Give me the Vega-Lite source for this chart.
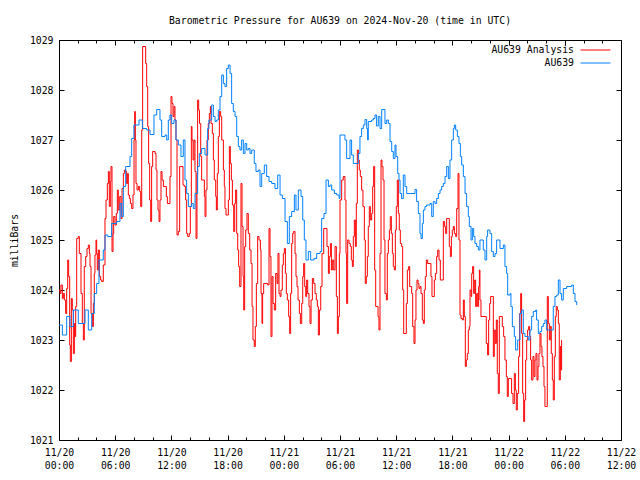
{
"$schema": "https://vega.github.io/schema/vega-lite/v6.json",
"width": 562, "height": 400,
"autosize": {"type": "none"},
"padding": {"left": 59, "top": 40, "right": 19, "bottom": 40},
"background": "white",
"title": {"text": "Barometric Pressure for AU639 on 2024-Nov-20 (time in UTC)", "font": "DejaVu Sans Mono", "fontSize": 9.8, "fontWeight": "normal", "color": "black", "anchor": "middle", "offset": 9},
"config": {
  "view": {"stroke": "black", "strokeWidth": 1},
  "font": "DejaVu Sans Mono",
  "axis": {"grid": false, "domain": false, "labelFont": "DejaVu Sans Mono", "labelFontSize": 9.8, "labelColor": "black", "tickColor": "black", "tickWidth": 1, "titleFont": "DejaVu Sans Mono", "titleFontSize": 9.8, "titleFontWeight": "normal", "titleColor": "black", "labelFlush": false, "labelBound": false, "labelOverlap": false}
},
"datasets": {
"analysis": [
{"h":0,"p":1024.0},{"h":0.11,"p":1023.93},{"h":0.21,"p":1024.1},{"h":0.36,"p":1023.83},{"h":0.46,"p":1023.93},{"h":0.57,"p":1023.8},{"h":0.71,"p":1023.53},{"h":0.82,"p":1024.03},{"h":0.93,"p":1024.6},{"h":1.03,"p":1024.27},{"h":1.14,"p":1022.9},{"h":1.21,"p":1022.57},{"h":1.32,"p":1023.83},{"h":1.42,"p":1023.6},{"h":1.53,"p":1022.73},{"h":1.64,"p":1023.33},{"h":1.71,"p":1023.07},{"h":1.78,"p":1023.67},{"h":1.89,"p":1025.03},{"h":2.06,"p":1025.07},{"h":2.17,"p":1024.73},{"h":2.35,"p":1023.93},{"h":2.49,"p":1023.33},{"h":2.6,"p":1023.0},{"h":2.7,"p":1024.47},{"h":2.85,"p":1024.67},{"h":2.99,"p":1024.83},{"h":3.13,"p":1024.9},{"h":3.24,"p":1024.73},{"h":3.31,"p":1024.47},{"h":3.42,"p":1023.53},{"h":3.56,"p":1023.27},{"h":3.67,"p":1023.73},{"h":3.77,"p":1024.33},{"h":3.84,"p":1024.7},{"h":3.95,"p":1025.0},{"h":4.02,"p":1024.73},{"h":4.09,"p":1024.4},{"h":4.2,"p":1024.8},{"h":4.31,"p":1024.27},{"h":4.45,"p":1024.2},{"h":4.56,"p":1024.17},{"h":4.73,"p":1024.5},{"h":4.91,"p":1025.43},{"h":5.02,"p":1025.8},{"h":5.16,"p":1026.13},{"h":5.27,"p":1026.37},{"h":5.37,"p":1025.67},{"h":5.48,"p":1026.17},{"h":5.55,"p":1026.47},{"h":5.66,"p":1024.77},{"h":5.77,"p":1025.13},{"h":5.84,"p":1025.47},{"h":5.98,"p":1025.3},{"h":6.12,"p":1025.53},{"h":6.23,"p":1026.0},{"h":6.33,"p":1025.6},{"h":6.48,"p":1025.87},{"h":6.62,"p":1025.43},{"h":6.73,"p":1026.03},{"h":6.87,"p":1026.33},{"h":6.98,"p":1026.4},{"h":7.12,"p":1026.37},{"h":7.22,"p":1026.13},{"h":7.33,"p":1026.33},{"h":7.4,"p":1025.9},{"h":7.51,"p":1025.83},{"h":7.62,"p":1025.73},{"h":7.76,"p":1025.63},{"h":7.9,"p":1025.9},{"h":8.01,"p":1027.0},{"h":8.08,"p":1027.57},{"h":8.15,"p":1027.0},{"h":8.22,"p":1026.13},{"h":8.33,"p":1026.0},{"h":8.47,"p":1026.07},{"h":8.61,"p":1025.97},{"h":8.72,"p":1025.67},{"h":8.83,"p":1027.2},{"h":8.93,"p":1028.87},{"h":9.25,"p":1028.53},{"h":9.36,"p":1028.07},{"h":9.47,"p":1027.27},{"h":9.57,"p":1026.53},{"h":9.68,"p":1025.8},{"h":9.79,"p":1025.37},{"h":9.89,"p":1026.47},{"h":10.0,"p":1026.77},{"h":10.25,"p":1026.73},{"h":10.36,"p":1026.4},{"h":10.46,"p":1025.8},{"h":10.57,"p":1025.6},{"h":10.68,"p":1025.37},{"h":10.78,"p":1025.8},{"h":10.89,"p":1026.37},{"h":11.0,"p":1026.2},{"h":11.14,"p":1026.07},{"h":11.46,"p":1025.87},{"h":11.57,"p":1025.73},{"h":11.85,"p":1026.27},{"h":11.96,"p":1027.87},{"h":12.06,"p":1027.73},{"h":12.17,"p":1027.47},{"h":12.28,"p":1027.67},{"h":12.38,"p":1027.4},{"h":12.49,"p":1027.0},{"h":12.6,"p":1025.1},{"h":12.74,"p":1025.17},{"h":12.88,"p":1026.47},{"h":13.24,"p":1026.1},{"h":13.38,"p":1026.07},{"h":13.52,"p":1025.8},{"h":13.63,"p":1025.13},{"h":13.74,"p":1025.07},{"h":13.91,"p":1025.13},{"h":14.02,"p":1025.67},{"h":14.13,"p":1027.27},{"h":14.2,"p":1027.0},{"h":14.31,"p":1026.6},{"h":14.41,"p":1027.0},{"h":14.52,"p":1026.37},{"h":14.63,"p":1025.03},{"h":14.73,"p":1026.33},{"h":14.8,"p":1027.8},{"h":14.91,"p":1027.6},{"h":15.0,"p":1027.33},{"h":15.13,"p":1026.67},{"h":15.23,"p":1026.2},{"h":15.52,"p":1025.87},{"h":15.59,"p":1025.47},{"h":15.69,"p":1026.0},{"h":15.8,"p":1027.0},{"h":15.94,"p":1027.33},{"h":16.05,"p":1027.53},{"h":16.16,"p":1027.67},{"h":16.23,"p":1027.33},{"h":16.37,"p":1027.13},{"h":16.48,"p":1026.6},{"h":16.58,"p":1026.2},{"h":16.73,"p":1025.87},{"h":16.8,"p":1025.6},{"h":16.9,"p":1026.33},{"h":17.01,"p":1027.07},{"h":17.12,"p":1027.57},{"h":17.26,"p":1027.47},{"h":17.37,"p":1027.0},{"h":17.55,"p":1026.4},{"h":17.65,"p":1026.07},{"h":17.72,"p":1025.63},{"h":17.83,"p":1025.5},{"h":18.08,"p":1025.8},{"h":18.19,"p":1026.87},{"h":18.29,"p":1026.53},{"h":18.4,"p":1026.2},{"h":18.51,"p":1025.7},{"h":18.65,"p":1025.17},{"h":18.76,"p":1025.73},{"h":18.86,"p":1026.0},{"h":18.97,"p":1025.13},{"h":19.08,"p":1024.8},{"h":19.18,"p":1024.47},{"h":19.29,"p":1024.07},{"h":19.43,"p":1026.13},{"h":19.54,"p":1025.27},{"h":19.65,"p":1024.27},{"h":19.72,"p":1023.6},{"h":19.82,"p":1024.87},{"h":19.93,"p":1025.2},{"h":20.07,"p":1025.53},{"h":20.21,"p":1025.13},{"h":20.36,"p":1024.8},{"h":20.5,"p":1024.53},{"h":20.61,"p":1023.67},{"h":20.71,"p":1023.0},{"h":20.85,"p":1022.87},{"h":20.96,"p":1023.27},{"h":21.07,"p":1024.13},{"h":21.21,"p":1025.07},{"h":21.35,"p":1025.0},{"h":21.5,"p":1024.8},{"h":21.57,"p":1023.93},{"h":21.67,"p":1023.33},{"h":21.74,"p":1023.93},{"h":21.85,"p":1024.13},{"h":22.28,"p":1024.1},{"h":22.42,"p":1025.23},{"h":22.53,"p":1024.67},{"h":22.63,"p":1023.07},{"h":22.74,"p":1024.27},{"h":22.85,"p":1023.73},{"h":22.99,"p":1023.6},{"h":23.13,"p":1024.33},{"h":23.28,"p":1024.13},{"h":23.38,"p":1024.73},{"h":23.49,"p":1023.93},{"h":23.6,"p":1023.87},{"h":23.7,"p":1024.0},{"h":23.84,"p":1024.5},{"h":23.95,"p":1024.73},{"h":24.06,"p":1024.83},{"h":24.17,"p":1024.33},{"h":24.27,"p":1023.93},{"h":24.38,"p":1023.8},{"h":24.52,"p":1023.47},{"h":24.63,"p":1023.13},{"h":24.73,"p":1023.93},{"h":24.84,"p":1024.93},{"h":24.95,"p":1025.13},{"h":25.05,"p":1025.17},{"h":25.2,"p":1024.73},{"h":25.3,"p":1024.27},{"h":25.41,"p":1024.07},{"h":25.52,"p":1023.8},{"h":25.66,"p":1023.53},{"h":25.77,"p":1023.33},{"h":25.91,"p":1023.73},{"h":26.02,"p":1024.27},{"h":26.12,"p":1024.53},{"h":26.23,"p":1024.07},{"h":26.34,"p":1023.87},{"h":26.44,"p":1024.2},{"h":26.55,"p":1023.93},{"h":26.69,"p":1023.67},{"h":26.8,"p":1023.33},{"h":26.91,"p":1023.8},{"h":27.05,"p":1024.23},{"h":27.19,"p":1024.13},{"h":27.33,"p":1023.93},{"h":27.47,"p":1023.8},{"h":27.58,"p":1023.67},{"h":27.69,"p":1023.1},{"h":27.8,"p":1023.6},{"h":27.94,"p":1024.07},{"h":28.08,"p":1024.73},{"h":28.26,"p":1025.23},{"h":28.61,"p":1024.87},{"h":28.76,"p":1024.33},{"h":28.86,"p":1024.67},{"h":28.97,"p":1024.93},{"h":29.08,"p":1024.4},{"h":29.18,"p":1024.6},{"h":29.33,"p":1024.4},{"h":29.47,"p":1024.87},{"h":29.61,"p":1023.87},{"h":29.72,"p":1023.13},{"h":29.82,"p":1023.47},{"h":29.93,"p":1024.73},{"h":30.0,"p":1025.8},{"h":30.18,"p":1026.2},{"h":30.35,"p":1026.27},{"h":30.53,"p":1025.8},{"h":30.64,"p":1024.73},{"h":30.71,"p":1023.73},{"h":30.82,"p":1025.0},{"h":30.96,"p":1024.93},{"h":31.1,"p":1024.87},{"h":31.21,"p":1024.6},{"h":31.32,"p":1024.47},{"h":31.42,"p":1025.07},{"h":31.53,"p":1025.4},{"h":31.64,"p":1024.87},{"h":31.74,"p":1025.73},{"h":31.85,"p":1026.8},{"h":31.96,"p":1026.6},{"h":32.06,"p":1026.4},{"h":32.17,"p":1026.27},{"h":32.31,"p":1026.0},{"h":32.45,"p":1025.67},{"h":32.6,"p":1025.0},{"h":32.7,"p":1024.13},{"h":32.81,"p":1024.27},{"h":32.92,"p":1024.67},{"h":33.02,"p":1025.27},{"h":33.13,"p":1025.67},{"h":33.24,"p":1025.4},{"h":33.38,"p":1025.53},{"h":33.49,"p":1026.07},{"h":33.59,"p":1026.47},{"h":33.7,"p":1024.4},{"h":33.81,"p":1023.67},{"h":34.06,"p":1023.47},{"h":34.16,"p":1023.2},{"h":34.27,"p":1024.73},{"h":34.38,"p":1026.6},{"h":34.48,"p":1026.47},{"h":34.59,"p":1026.2},{"h":34.7,"p":1025.0},{"h":34.8,"p":1023.93},{"h":34.95,"p":1023.8},{"h":35.05,"p":1024.73},{"h":35.16,"p":1025.0},{"h":35.27,"p":1025.2},{"h":35.37,"p":1025.47},{"h":35.48,"p":1025.13},{"h":35.59,"p":1024.73},{"h":35.69,"p":1024.47},{"h":35.8,"p":1024.4},{"h":35.91,"p":1025.2},{"h":36.01,"p":1025.67},{"h":36.12,"p":1026.2},{"h":36.23,"p":1025.53},{"h":36.33,"p":1025.2},{"h":36.44,"p":1024.93},{"h":36.58,"p":1024.87},{"h":36.69,"p":1024.0},{"h":36.8,"p":1023.13},{"h":37.08,"p":1023.73},{"h":37.19,"p":1024.4},{"h":37.33,"p":1024.47},{"h":37.44,"p":1024.07},{"h":37.65,"p":1023.93},{"h":37.76,"p":1023.27},{"h":37.9,"p":1022.93},{"h":38.01,"p":1023.4},{"h":38.11,"p":1024.0},{"h":38.22,"p":1024.2},{"h":38.33,"p":1024.13},{"h":38.43,"p":1024.03},{"h":38.54,"p":1024.07},{"h":38.65,"p":1023.93},{"h":38.79,"p":1023.4},{"h":38.9,"p":1023.33},{"h":39.0,"p":1024.0},{"h":39.11,"p":1024.27},{"h":39.22,"p":1024.6},{"h":39.36,"p":1024.53},{"h":39.71,"p":1024.27},{"h":39.82,"p":1023.87},{"h":40.07,"p":1024.2},{"h":40.18,"p":1024.33},{"h":40.32,"p":1024.67},{"h":40.43,"p":1024.8},{"h":40.57,"p":1024.6},{"h":40.71,"p":1024.2},{"h":41.03,"p":1025.37},{"h":41.17,"p":1025.27},{"h":41.28,"p":1025.13},{"h":41.39,"p":1025.43},{"h":41.67,"p":1024.87},{"h":41.78,"p":1024.67},{"h":41.89,"p":1025.07},{"h":41.99,"p":1025.2},{"h":42.1,"p":1025.27},{"h":42.21,"p":1025.13},{"h":42.35,"p":1025.07},{"h":42.46,"p":1025.63},{"h":42.6,"p":1026.33},{"h":42.7,"p":1025.0},{"h":42.81,"p":1023.5},{"h":42.92,"p":1023.43},{"h":43.06,"p":1023.4},{"h":43.17,"p":1023.8},{"h":43.27,"p":1023.47},{"h":43.38,"p":1022.47},{"h":43.49,"p":1022.6},{"h":43.59,"p":1022.73},{"h":43.7,"p":1023.2},{"h":43.81,"p":1023.27},{"h":43.88,"p":1024.0},{"h":43.99,"p":1023.87},{"h":44.06,"p":1024.33},{"h":44.16,"p":1024.47},{"h":44.27,"p":1023.93},{"h":44.38,"p":1024.2},{"h":44.48,"p":1023.67},{"h":44.59,"p":1023.93},{"h":44.7,"p":1023.67},{"h":44.8,"p":1024.07},{"h":44.88,"p":1024.4},{"h":44.94,"p":1023.8},{"h":45.05,"p":1023.47},{"h":45.62,"p":1022.93},{"h":45.76,"p":1022.7},{"h":45.87,"p":1023.4},{"h":45.98,"p":1023.73},{"h":46.08,"p":1023.87},{"h":46.37,"p":1022.67},{"h":46.47,"p":1023.2},{"h":46.58,"p":1022.93},{"h":46.69,"p":1023.4},{"h":46.79,"p":1022.33},{"h":46.9,"p":1021.93},{"h":47.01,"p":1023.47},{"h":47.33,"p":1023.27},{"h":47.47,"p":1023.07},{"h":47.61,"p":1022.6},{"h":47.76,"p":1022.27},{"h":47.86,"p":1021.87},{"h":47.97,"p":1022.23},{"h":48.32,"p":1021.93},{"h":48.47,"p":1021.73},{"h":48.61,"p":1022.33},{"h":48.72,"p":1022.0},{"h":48.82,"p":1021.6},{"h":48.93,"p":1021.93},{"h":49.07,"p":1022.67},{"h":49.18,"p":1023.53},{"h":49.29,"p":1023.93},{"h":49.39,"p":1023.13},{"h":49.5,"p":1021.93},{"h":49.61,"p":1021.37},{"h":49.71,"p":1021.8},{"h":49.82,"p":1022.6},{"h":49.93,"p":1023.0},{"h":50.03,"p":1023.2},{"h":50.14,"p":1023.27},{"h":50.25,"p":1023.07},{"h":50.35,"p":1022.6},{"h":50.46,"p":1022.2},{"h":50.6,"p":1022.67},{"h":50.71,"p":1022.27},{"h":50.82,"p":1022.6},{"h":50.92,"p":1022.73},{"h":51.03,"p":1022.2},{"h":51.14,"p":1022.47},{"h":51.24,"p":1022.73},{"h":51.35,"p":1023.13},{"h":51.46,"p":1022.87},{"h":51.56,"p":1022.67},{"h":51.67,"p":1022.47},{"h":51.78,"p":1022.07},{"h":51.88,"p":1021.67},{"h":52.13,"p":1023.87},{"h":52.24,"p":1023.33},{"h":52.35,"p":1023.0},{"h":52.45,"p":1023.27},{"h":52.56,"p":1022.73},{"h":52.67,"p":1022.2},{"h":52.77,"p":1021.8},{"h":52.88,"p":1022.67},{"h":52.99,"p":1023.47},{"h":53.09,"p":1023.67},{"h":53.2,"p":1023.6},{"h":53.31,"p":1023.33},{"h":53.41,"p":1022.2},{"h":53.52,"p":1022.87},{"h":53.59,"p":1022.4},{"h":53.66,"p":1023.0}
],
"obs": [
{"h":0,"p":1023.3},{"h":0.36,"p":1023.1},{"h":0.82,"p":1023.47},{"h":1.17,"p":1023.27},{"h":1.53,"p":1023.6},{"h":2.06,"p":1023.33},{"h":2.78,"p":1023.6},{"h":3.13,"p":1023.2},{"h":3.49,"p":1023.53},{"h":3.77,"p":1023.93},{"h":4.02,"p":1024.13},{"h":4.27,"p":1024.6},{"h":4.73,"p":1024.8},{"h":4.91,"p":1025.1},{"h":5.2,"p":1025.07},{"h":5.62,"p":1025.33},{"h":6.16,"p":1025.37},{"h":6.51,"p":1025.73},{"h":6.69,"p":1025.47},{"h":6.87,"p":1026.07},{"h":7.12,"p":1026.47},{"h":7.58,"p":1026.67},{"h":7.76,"p":1027.03},{"h":8.0,"p":1027.3},{"h":8.54,"p":1027.4},{"h":8.9,"p":1027.23},{"h":9.36,"p":1027.2},{"h":9.72,"p":1027.11},{"h":10.14,"p":1027.5},{"h":10.43,"p":1027.61},{"h":10.78,"p":1027.4},{"h":10.96,"p":1027.07},{"h":11.32,"p":1027.1},{"h":11.5,"p":1027.0},{"h":11.67,"p":1027.4},{"h":11.85,"p":1027.5},{"h":12.03,"p":1027.33},{"h":12.28,"p":1027.4},{"h":12.49,"p":1027.0},{"h":12.74,"p":1026.9},{"h":13.02,"p":1026.67},{"h":13.27,"p":1027.0},{"h":13.45,"p":1026.2},{"h":13.63,"p":1025.93},{"h":13.81,"p":1025.67},{"h":14.16,"p":1025.73},{"h":14.34,"p":1025.63},{"h":14.52,"p":1025.93},{"h":14.8,"p":1026.47},{"h":14.98,"p":1026.73},{"h":15.23,"p":1026.83},{"h":15.59,"p":1026.7},{"h":15.87,"p":1027.23},{"h":16.01,"p":1027.4},{"h":16.3,"p":1027.7},{"h":16.48,"p":1027.47},{"h":16.66,"p":1027.37},{"h":16.83,"p":1027.4},{"h":17.01,"p":1027.6},{"h":17.19,"p":1027.87},{"h":17.37,"p":1028.3},{"h":17.55,"p":1028.13},{"h":17.72,"p":1028.07},{"h":17.9,"p":1028.43},{"h":18.08,"p":1028.5},{"h":18.26,"p":1028.33},{"h":18.43,"p":1027.73},{"h":18.61,"p":1027.57},{"h":18.79,"p":1027.47},{"h":18.97,"p":1027.07},{"h":19.15,"p":1026.87},{"h":19.32,"p":1026.8},{"h":19.5,"p":1027.0},{"h":19.68,"p":1026.73},{"h":19.86,"p":1026.93},{"h":20.04,"p":1026.8},{"h":20.21,"p":1026.83},{"h":20.39,"p":1026.73},{"h":20.57,"p":1026.8},{"h":20.85,"p":1026.53},{"h":21.03,"p":1026.37},{"h":21.28,"p":1026.4},{"h":21.46,"p":1026.07},{"h":21.64,"p":1026.33},{"h":21.92,"p":1026.5},{"h":22.17,"p":1026.27},{"h":22.42,"p":1026.17},{"h":22.71,"p":1026.13},{"h":23.06,"p":1026.03},{"h":23.35,"p":1026.3},{"h":23.6,"p":1025.9},{"h":23.84,"p":1025.83},{"h":24.13,"p":1025.37},{"h":24.38,"p":1024.93},{"h":24.59,"p":1025.47},{"h":24.84,"p":1025.57},{"h":25.13,"p":1025.9},{"h":25.3,"p":1025.6},{"h":25.55,"p":1026.0},{"h":25.84,"p":1025.87},{"h":26.02,"p":1025.4},{"h":26.19,"p":1025.0},{"h":26.37,"p":1024.6},{"h":26.62,"p":1024.77},{"h":26.87,"p":1024.6},{"h":27.23,"p":1024.63},{"h":27.51,"p":1024.73},{"h":27.87,"p":1024.77},{"h":28.04,"p":1025.43},{"h":28.29,"p":1025.53},{"h":28.51,"p":1026.2},{"h":28.76,"p":1026.07},{"h":28.93,"p":1026.1},{"h":29.11,"p":1026.0},{"h":29.4,"p":1025.93},{"h":29.65,"p":1025.9},{"h":29.9,"p":1025.83},{"h":30.0,"p":1027.1},{"h":30.53,"p":1027.0},{"h":30.71,"p":1026.63},{"h":31.07,"p":1027.0},{"h":31.24,"p":1026.7},{"h":31.42,"p":1026.53},{"h":31.96,"p":1026.73},{"h":32.13,"p":1027.07},{"h":32.31,"p":1027.23},{"h":32.49,"p":1027.3},{"h":32.67,"p":1027.41},{"h":32.85,"p":1027.23},{"h":32.95,"p":1027.0},{"h":33.02,"p":1027.37},{"h":33.38,"p":1027.4},{"h":33.56,"p":1027.43},{"h":33.74,"p":1027.5},{"h":33.91,"p":1027.28},{"h":34.09,"p":1027.47},{"h":34.27,"p":1027.23},{"h":34.45,"p":1027.61},{"h":34.8,"p":1027.33},{"h":34.98,"p":1027.4},{"h":35.16,"p":1027.33},{"h":35.34,"p":1026.97},{"h":35.52,"p":1026.77},{"h":35.69,"p":1026.63},{"h":35.87,"p":1026.9},{"h":35.98,"p":1026.67},{"h":36.16,"p":1026.33},{"h":36.3,"p":1026.2},{"h":36.41,"p":1025.93},{"h":36.58,"p":1025.83},{"h":36.76,"p":1026.3},{"h":36.94,"p":1026.07},{"h":37.12,"p":1025.93},{"h":38.01,"p":1026.01},{"h":38.18,"p":1025.77},{"h":38.36,"p":1025.53},{"h":38.54,"p":1025.13},{"h":38.65,"p":1025.03},{"h":38.79,"p":1025.33},{"h":38.9,"p":1025.6},{"h":39.07,"p":1025.67},{"h":39.25,"p":1025.7},{"h":39.61,"p":1025.73},{"h":39.79,"p":1025.47},{"h":39.96,"p":1025.77},{"h":40.14,"p":1025.73},{"h":40.32,"p":1025.83},{"h":40.5,"p":1025.93},{"h":40.68,"p":1026.0},{"h":40.85,"p":1026.07},{"h":41.03,"p":1026.13},{"h":41.21,"p":1026.27},{"h":41.39,"p":1026.47},{"h":41.57,"p":1026.23},{"h":41.74,"p":1026.6},{"h":41.92,"p":1027.0},{"h":42.1,"p":1027.23},{"h":42.21,"p":1027.3},{"h":42.35,"p":1027.2},{"h":42.53,"p":1027.07},{"h":42.7,"p":1026.93},{"h":42.85,"p":1026.67},{"h":42.99,"p":1026.5},{"h":43.17,"p":1026.27},{"h":43.35,"p":1025.93},{"h":43.52,"p":1025.67},{"h":43.7,"p":1025.47},{"h":43.81,"p":1025.27},{"h":43.99,"p":1025.0},{"h":44.13,"p":1025.23},{"h":44.27,"p":1025.07},{"h":44.41,"p":1024.93},{"h":44.59,"p":1024.87},{"h":44.77,"p":1024.8},{"h":44.94,"p":1025.0},{"h":45.3,"p":1024.8},{"h":45.48,"p":1024.6},{"h":45.66,"p":1025.07},{"h":45.76,"p":1025.2},{"h":46.01,"p":1025.13},{"h":46.19,"p":1024.77},{"h":46.37,"p":1024.67},{"h":46.55,"p":1024.73},{"h":46.72,"p":1025.0},{"h":47.08,"p":1024.83},{"h":47.44,"p":1024.9},{"h":47.61,"p":1024.47},{"h":47.79,"p":1024.33},{"h":47.9,"p":1023.9},{"h":48.15,"p":1023.93},{"h":48.25,"p":1023.67},{"h":48.4,"p":1023.27},{"h":48.61,"p":1023.07},{"h":48.75,"p":1022.8},{"h":48.97,"p":1023.0},{"h":49.21,"p":1023.53},{"h":49.39,"p":1023.6},{"h":49.57,"p":1023.13},{"h":49.75,"p":1023.07},{"h":50.1,"p":1023.0},{"h":50.28,"p":1023.2},{"h":50.46,"p":1023.47},{"h":50.64,"p":1023.57},{"h":50.89,"p":1023.6},{"h":50.99,"p":1023.4},{"h":51.17,"p":1023.13},{"h":51.35,"p":1023.17},{"h":51.53,"p":1023.27},{"h":51.71,"p":1023.33},{"h":51.88,"p":1023.4},{"h":52.06,"p":1023.2},{"h":52.77,"p":1023.67},{"h":52.95,"p":1023.87},{"h":53.13,"p":1023.9},{"h":53.31,"p":1024.2},{"h":53.49,"p":1023.93},{"h":53.66,"p":1023.8},{"h":53.84,"p":1024.03},{"h":54.2,"p":1024.07},{"h":54.73,"p":1024.1},{"h":54.91,"p":1023.93},{"h":55.09,"p":1023.77},{"h":55.27,"p":1023.7}
]
},
"layer": [
{
  "data": {"name": "analysis"},
  "mark": {"type": "line", "interpolate": "step-after", "strokeWidth": 1, "clip": true},
  "encoding": {
    "x": {"field": "h", "type": "quantitative", "scale": {"domain": [0, 60], "nice": false, "zero": false},
      "axis": {"orient": "bottom", "title": null, "values": [0,2,4,6,8,10,12,14,16,18,20,22,24,26,28,30,32,34,36,38,40,42,44,46,48,50,52,54,56,58,60],
        "tickSize": {"condition": {"test": "datum.value % 6 === 0", "value": -5}, "value": -3},
        "labelPadding": 12, "labelBaseline": "top", "labelAlign": "center", "labelLineHeight": 13,
        "labelExpr": "datum.value % 6 === 0 ? ['11/' + (20 + floor(datum.value / 24)), (datum.value % 24 < 10 ? '0' : '') + (datum.value % 24) + ':00'] : ''"}},
    "y": {"field": "p", "type": "quantitative", "scale": {"domain": [1021, 1029], "nice": false, "zero": false},
      "axis": {"orient": "left", "title": "milliBars", "format": "d", "values": [1021,1022,1023,1024,1025,1026,1027,1028,1029], "tickSize": -5, "labelPadding": 11, "labelAlign": "right", "labelBaseline": "middle", "titlePadding": 10}},
    "color": {"datum": "AU639 Analysis", "scale": {"domain": ["AU639 Analysis", "AU639"], "range": ["#ff0000", "#0080ff"]},
      "legend": {"orient": "none", "legendX": 521, "legendY": 5, "title": null, "symbolType": "stroke", "symbolSize": 900, "symbolStrokeWidth": 1, "labelAlign": "right", "labelOffset": -37, "labelFont": "DejaVu Sans Mono", "labelFontSize": 9.8, "labelColor": "black", "rowPadding": 3, "padding": 0,
        "encode": {"symbols": {"update": {"stroke": {"scale": "color", "field": "value"}, "y": {"value": 5}}}, "labels": {"update": {"y": {"value": 5}}}}}}
  }
},
{
  "data": {"name": "obs"},
  "mark": {"type": "line", "interpolate": "step-after", "strokeWidth": 1, "clip": true},
  "encoding": {
    "x": {"field": "h", "type": "quantitative", "scale": {"domain": [0, 60], "nice": false, "zero": false},
      "axis": {"orient": "top", "title": null, "labels": false, "values": [0,2,4,6,8,10,12,14,16,18,20,22,24,26,28,30,32,34,36,38,40,42,44,46,48,50,52,54,56,58,60],
        "tickSize": {"condition": {"test": "datum.value % 6 === 0", "value": -5}, "value": -3}}},
    "y": {"field": "p", "type": "quantitative", "scale": {"domain": [1021, 1029], "nice": false, "zero": false},
      "axis": {"orient": "right", "title": null, "labels": false, "values": [1021,1022,1023,1024,1025,1026,1027,1028,1029], "tickSize": -5}},
    "color": {"datum": "AU639"}
  }
}
],
"resolve": {"axis": {"x": "independent", "y": "independent"}}
}
